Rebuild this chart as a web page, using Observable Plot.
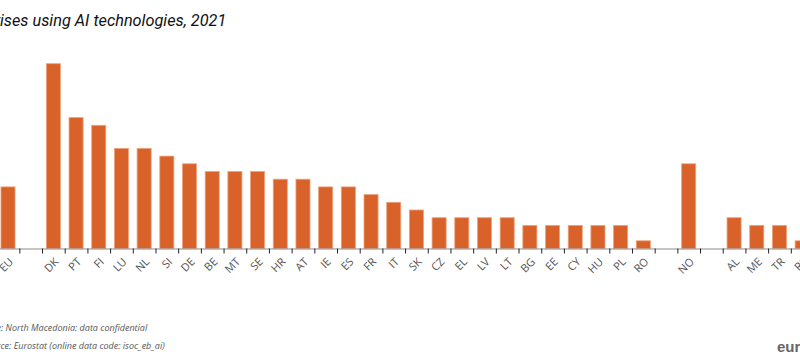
<!DOCTYPE html>
<html>
<head>
<meta charset="utf-8">
<script src="https://cdn.jsdelivr.net/npm/d3@7"></script>
<script src="https://cdn.jsdelivr.net/npm/@observablehq/plot@0.6"></script>
<style>
  html, body { margin: 0; padding: 0; background: #fff; }
  #wrap { position: relative; width: 800px; height: 364px; overflow: hidden; }
  #title { position: absolute; top: 11px; white-space: nowrap; font-family: Roboto, sans-serif; font-style: italic; font-size: 16.3px; color: #111; }
  #chart { position: absolute; top: 40px; left: 0; }
  .note { position: absolute; white-space: nowrap; font-family: "Open Sans", sans-serif; font-style: italic; font-size: 9px; color: #555; }
  #logo { position: absolute; left: 777px; top: 338px; font-family: "Liberation Sans", Arial, sans-serif; font-weight: bold; font-size: 15px; color: #666; white-space: nowrap; }
  .measure { position: absolute; visibility: hidden; white-space: nowrap; }
</style>
</head>
<body>
<div id="wrap">
  <div id="title">Enterprises using AI technologies, 2021</div>
  <div id="chart"></div>
  <div class="note" id="note1" style="top:321px">Note: North Macedonia: data confidential</div>
  <div class="note" id="note2" style="top:339px">Source: Eurostat (online data code: isoc_eb_ai)</div>
  <div id="logo">eurostat</div>
</div>
<script>
// Categories (gaps are blank slots in the original chart)
const categories = ["EU", "gap1", "DK", "PT", "FI", "LU", "NL", "SI", "DE", "BE", "MT", "SE", "HR", "AT", "IE", "ES", "FR", "IT", "SK", "CZ", "EL", "LV", "LT", "BG", "EE", "CY", "HU", "PL", "RO", "gap2", "NO", "gap3", "AL", "ME", "TR", "RS"];
// % of enterprises using AI technologies, 2021 (null = no bar)
const values = [8, null, 24, 17, 16, 13, 13, 12, 11, 10, 10, 10, 9, 9, 8, 8, 7, 6, 5, 4, 4, 4, 4, 3, 3, 3, 3, 3, 1, null, 11, null, 4, 3, 3, 1];

const data = categories.map((c, i) => ({cat: c, value: values[i]})).filter(d => d.value != null);

const step = 22.69;
const x0 = 8 - step / 2;
const isGap = c => c.startsWith("gap");
const labels = categories.filter(c => !isGap(c));

const chart = Plot.plot({
  width: 800,
  height: 250,
  marginLeft: 0, marginRight: 0, marginTop: 16, marginBottom: 41.5,
  style: {fontFamily: "'Open Sans', sans-serif"},
  x: {domain: categories, range: [x0, x0 + categories.length * step], paddingInner: 0.38, paddingOuter: 0.19, align: 0.5, round: false, axis: null},
  y: {domain: [0, 25], axis: null},
  marks: [
    Plot.barY(data, {x: "cat", y: "value", fill: "#d9622b", stroke: "#eea27a", strokeWidth: 0.8}),
    Plot.ruleY([0], {stroke: "#8a8a8a", strokeWidth: 1}),
    Plot.ruleX(categories, {x: d => d, y1: 0, y2: 0, insetBottom: -5, dx: step / 2, stroke: "#222", strokeWidth: 1}),
    Plot.text(labels, {x: d => d, y: () => 0, text: d => d, rotate: -45, textAnchor: "end",
      dx: 3, dy: 11, fontSize: 11, fill: "#555"})
  ]
});
// Tidy long floating-point numbers in transform attributes
chart.querySelectorAll("[transform]").forEach(el => {
  el.setAttribute("transform", el.getAttribute("transform").replace(/-?\d+\.\d+(e-?\d+)?/g, m => String(Math.round(+m * 100) / 100)));
});
document.getElementById("chart").appendChild(chart);

function measure(text, el) {
  const s = document.createElement("span");
  s.className = "measure";
  const cs = getComputedStyle(el);
  s.style.font = cs.font;
  s.style.fontStyle = cs.fontStyle;
  s.textContent = text;
  document.body.appendChild(s);
  const w = s.getBoundingClientRect().width;
  s.remove();
  return w;
}
const t = document.getElementById("title");
t.style.left = (-measure("Enterpr", t)) + "px";
const n1 = document.getElementById("note1"), n2 = document.getElementById("note2");
const off = measure("Note", n1) - 1;
n1.style.left = (-off) + "px";
n2.style.left = (-off) + "px";
</script>
</body>
</html>
